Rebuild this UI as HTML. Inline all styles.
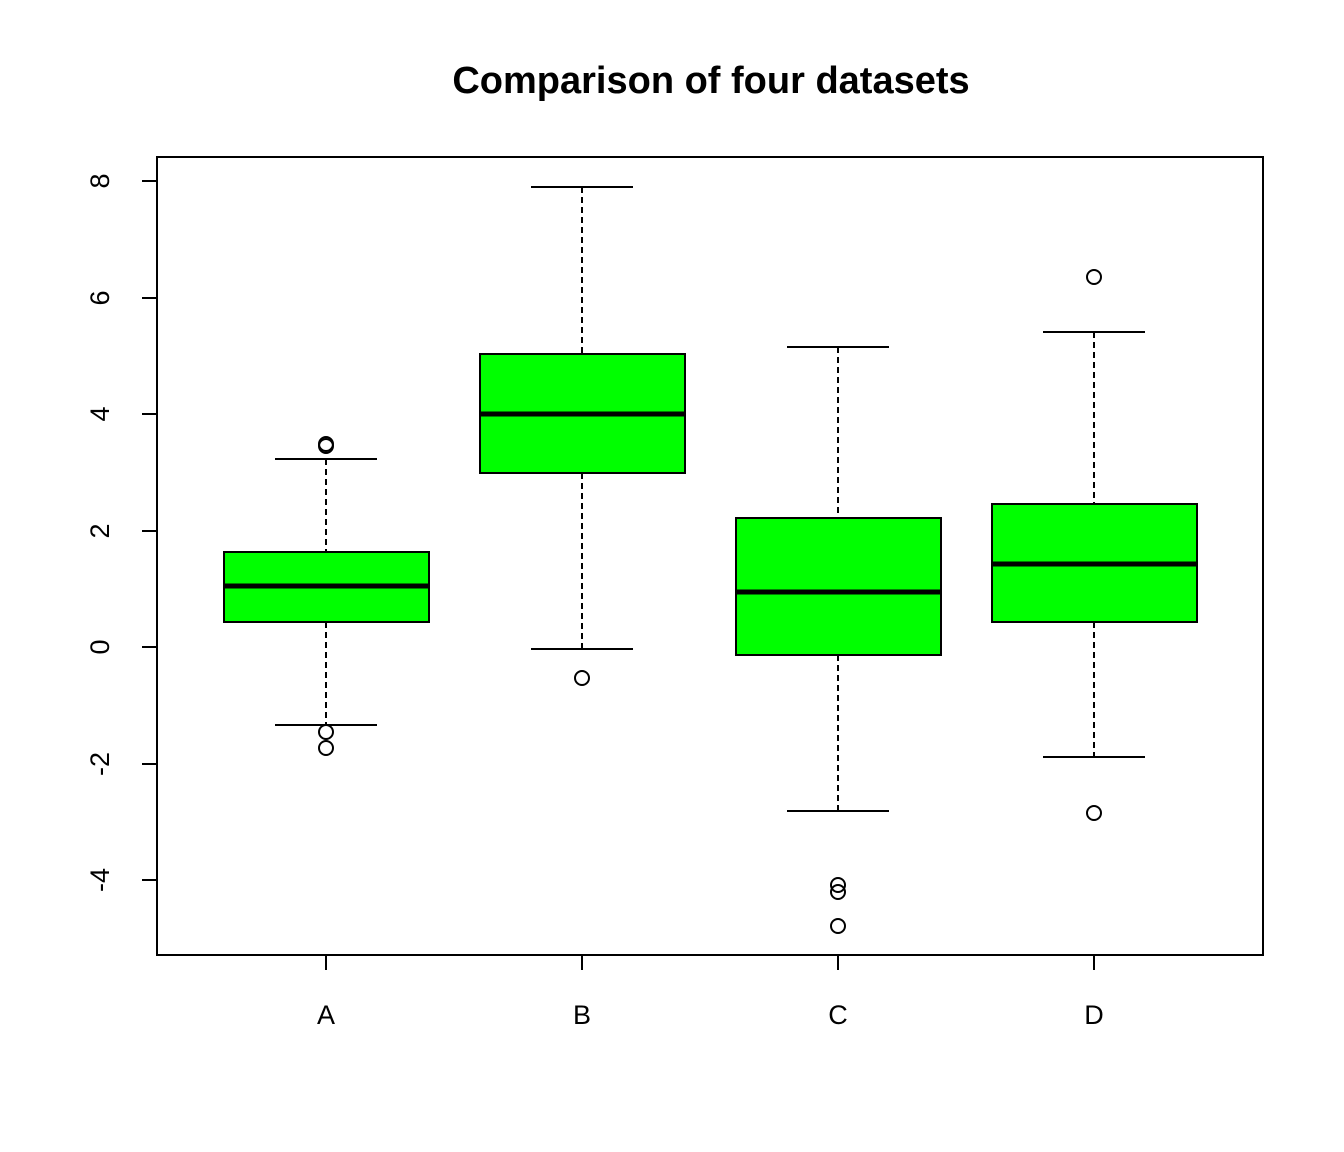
<!DOCTYPE html>
<html><head><style>body{margin:0;background:#fff}svg{display:block}</style></head><body>
<svg width="1344" height="1152" xmlns="http://www.w3.org/2000/svg" font-family="Liberation Sans, sans-serif">
<rect width="1344" height="1152" fill="#fff"/>
<text x="711" y="93" text-anchor="middle" font-size="38" font-weight="bold">Comparison of four datasets</text>
<g stroke="#000" stroke-width="2" fill="none">
<rect x="157" y="157" width="1106" height="798"/>
<line x1="142" y1="181" x2="157" y2="181"/><line x1="142" y1="298" x2="157" y2="298"/><line x1="142" y1="414" x2="157" y2="414"/><line x1="142" y1="531" x2="157" y2="531"/><line x1="142" y1="647" x2="157" y2="647"/><line x1="142" y1="764" x2="157" y2="764"/><line x1="142" y1="880" x2="157" y2="880"/>
<line x1="326" y1="955" x2="326" y2="970"/><line x1="582" y1="955" x2="582" y2="970"/><line x1="838" y1="955" x2="838" y2="970"/><line x1="1094" y1="955" x2="1094" y2="970"/>
</g>
<g font-size="27" text-anchor="middle">
<text transform="translate(109,181) rotate(-90)">8</text>
<text transform="translate(109,298) rotate(-90)">6</text>
<text transform="translate(109,414) rotate(-90)">4</text>
<text transform="translate(109,531) rotate(-90)">2</text>
<text transform="translate(109,647) rotate(-90)">0</text>
<text transform="translate(109,764) rotate(-90)">-2</text>
<text transform="translate(109,880) rotate(-90)">-4</text>
<text x="326" y="1024">A</text><text x="582" y="1024">B</text><text x="838" y="1024">C</text><text x="1094" y="1024">D</text>
</g>
<g stroke="#000" stroke-width="2" fill="none">
<line x1="326" y1="459" x2="326" y2="552" stroke-dasharray="6,4"/><line x1="326" y1="622" x2="326" y2="725" stroke-dasharray="6,4"/>
<line x1="275" y1="459" x2="377" y2="459"/><line x1="275" y1="725" x2="377" y2="725"/>
<rect x="224" y="552" width="205" height="70" fill="#00ff00"/>
<line x1="224" y1="586" x2="429" y2="586" stroke-width="5"/>
<circle cx="326" cy="444" r="7"/><circle cx="326" cy="446" r="7"/><circle cx="326" cy="732" r="7"/><circle cx="326" cy="748" r="7"/>
<line x1="582" y1="187" x2="582" y2="354" stroke-dasharray="6,4"/><line x1="582" y1="473" x2="582" y2="649" stroke-dasharray="6,4"/>
<line x1="531" y1="187" x2="633" y2="187"/><line x1="531" y1="649" x2="633" y2="649"/>
<rect x="480" y="354" width="205" height="119" fill="#00ff00"/>
<line x1="480" y1="414" x2="685" y2="414" stroke-width="5"/>
<circle cx="582" cy="678" r="7"/>
<line x1="838" y1="347" x2="838" y2="518" stroke-dasharray="6,4"/><line x1="838" y1="655" x2="838" y2="811" stroke-dasharray="6,4"/>
<line x1="787" y1="347" x2="889" y2="347"/><line x1="787" y1="811" x2="889" y2="811"/>
<rect x="736" y="518" width="205" height="137" fill="#00ff00"/>
<line x1="736" y1="592" x2="941" y2="592" stroke-width="5"/>
<circle cx="838" cy="885" r="7"/><circle cx="838" cy="892" r="7"/><circle cx="838" cy="926" r="7"/>
<line x1="1094" y1="332" x2="1094" y2="504" stroke-dasharray="6,4"/><line x1="1094" y1="622" x2="1094" y2="757" stroke-dasharray="6,4"/>
<line x1="1043" y1="332" x2="1145" y2="332"/><line x1="1043" y1="757" x2="1145" y2="757"/>
<rect x="992" y="504" width="205" height="118" fill="#00ff00"/>
<line x1="992" y1="564" x2="1197" y2="564" stroke-width="5"/>
<circle cx="1094" cy="277" r="7"/><circle cx="1094" cy="813" r="7"/>
</g>
</svg>
</body></html>
